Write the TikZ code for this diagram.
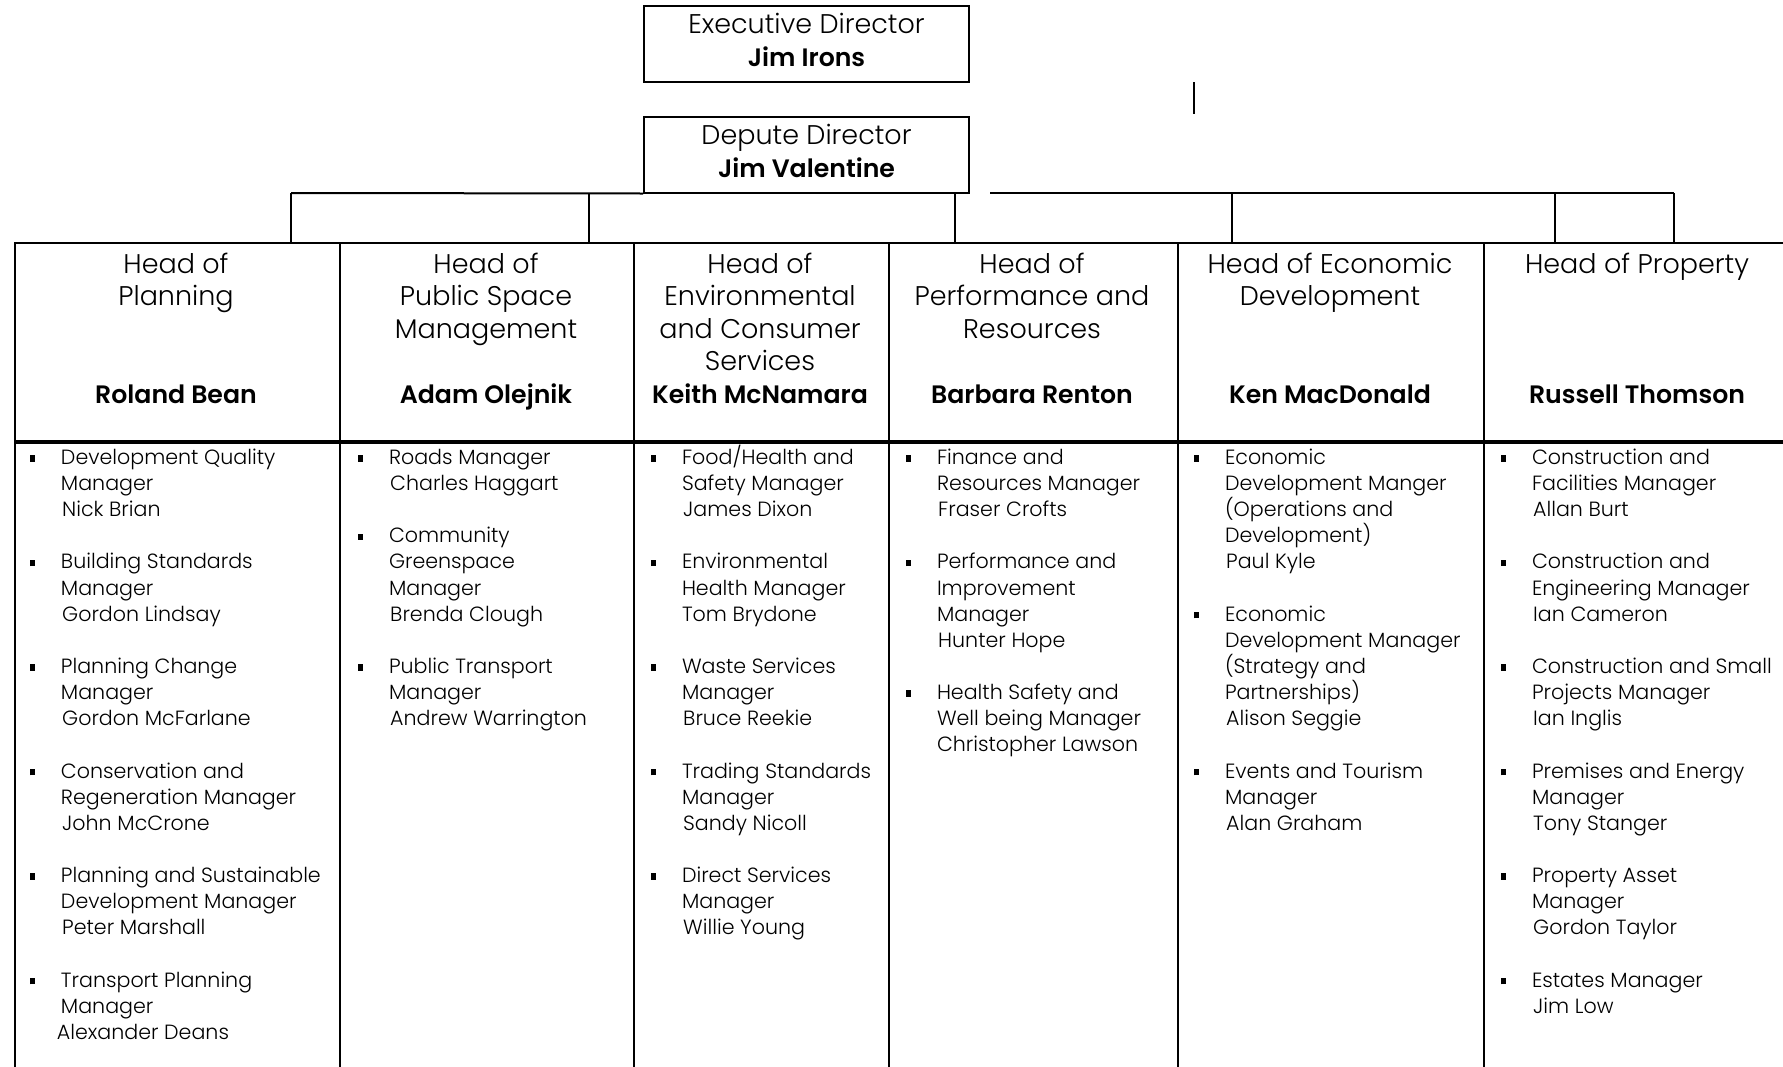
\documentclass[tikz,border=0pt]{standalone}
\usepackage{fontspec}
\setmainfont{Poppins}[UprightFont={* Light},BoldFont={* SemiBold}]
\usepackage{tikz}

\newcommand{\bul}{\llap{\vphantom{/(}\rule[1.4pt]{2.6pt}{3.2pt}\hspace{12.8pt}}}
\newcommand{\who}[1]{\kern0.6pt #1}
\newcommand{\nm}[1]{{\fontsize{12.6}{16.25}\selectfont\bfseries #1}}
\newcommand{\low}{\rule[-4pt]{0pt}{4pt}}

\begin{document}
\begin{tikzpicture}[x=0.5pt,y=-0.5pt,line width=1pt,
    boss/.style={draw,minimum width=162.5pt,minimum height=38pt,align=center,inner sep=0pt,font=\fontsize{13.5}{16.5}\selectfont},
    cell/.style={draw,anchor=north west,inner sep=0pt,minimum height=99pt},
    col/.style={draw,anchor=north west,inner sep=0pt,minimum height=340pt},
    head/.style={anchor=north,align=center,inner sep=0pt,font=\fontsize{13.5}{16.25}\selectfont},
    staff/.style={anchor=north west,align=left,inner sep=0pt,font=\fontsize{10.3}{13.07}\selectfont}]

\useasboundingbox (0,0) rectangle (1783,1066);

% directors
\node[boss] (exec) at (806.5,44) {Executive Director\\\nm{Jim Irons}\low};
\node[boss] (dep) at (806.5,154.5) {Depute Director\\\nm{Jim Valentine}\low};

\coordinate (stubT) at (1194,82);
\coordinate (stubB) at (1194,114);
\draw (stubT) -- (stubB);

% header row
\node[cell,minimum width=162.5pt] (hc1) at (14,242) {};
\node[cell,minimum width=147pt] (hc2) at (339,242) {};
\node[cell,minimum width=127.5pt] (hc3) at (633,242) {};
\node[cell,minimum width=144.5pt] (hc4) at (888,242) {};
\node[cell,minimum width=153pt] (hc5) at (1177,242) {};
\node[cell,minimum width=200pt] (hc6) at (1483,242) {};

% body row
\node[col,minimum width=162.5pt] (bc1) at (hc1.south west) {};
\node[col,minimum width=147pt] (bc2) at (hc2.south west) {};
\node[col,minimum width=127.5pt] (bc3) at (hc3.south west) {};
\node[col,minimum width=144.5pt] (bc4) at (hc4.south west) {};
\node[col,minimum width=153pt] (bc5) at (hc5.south west) {};
\node[col,minimum width=200pt] (bc6) at (hc6.south west) {};

% heads
\node[head] (h1) at (176,252) {Head of\\Planning\\[2\baselineskip]\nm{Roland Bean}};
\node[head] (h2) at (486,252) {Head of\\Public Space\\Management\\[\baselineskip]\nm{Adam Olejnik}};
\node[head] (h3) at (760,252) {Head of\\Environmental\\and Consumer\\Services\\\nm{Keith McNamara}};
\node[head] (h4) at (1032,252) {Head of\\Performance and\\Resources\\[\baselineskip]\nm{Barbara Renton}};
\node[head] (h5) at (1330,252) {Head of Economic\\Development\\[2\baselineskip]\nm{Ken MacDonald}};
\node[head] (h6) at (1637,252) {Head of Property\\[3\baselineskip]\nm{Russell Thomson}};

% links
\coordinate (busL) at (291,193);
\coordinate (d2) at (589,193);
\coordinate (busR) at (990,193);
\coordinate (d4) at (955,193);
\coordinate (d5) at (1232,193);
\coordinate (d6) at (1555,193);
\coordinate (busE) at (1674,193);
\draw (busL) -- (dep.south west);
\draw (busR) -- (busE);
\draw (busL) -- (busL |- hc1.north);
\draw (d2) -- (d2 |- hc2.north);
\draw (d4) -- (d4 |- hc4.north);
\draw (d5) -- (d5 |- hc5.north);
\draw (d6) -- (d6 |- hc6.north);
\draw (busE) -- (busE |- hc6.north);

% managers
\node[staff] (s1) at (60,444) {\bul Development Quality\\Manager\\\who{Nick Brian}\\[\baselineskip]
  \bul Building Standards\\Manager\\\who{Gordon Lindsay}\\[\baselineskip]
  \bul Planning Change\\Manager\\\who{Gordon McFarlane}\\[\baselineskip]
  \bul Conservation and\\Regeneration Manager\\\who{John McCrone}\\[\baselineskip]
  \bul Planning and Sustainable\\Development Manager\\\who{Peter Marshall}\\[\baselineskip]
  \bul Transport Planning\\Manager\\\kern-2pt Alexander Deans};
\node[staff] (s2) at (388,444) {\bul Roads Manager\\\who{Charles Haggart}\\[\baselineskip]
  \bul Community\\Greenspace\\Manager\\\who{Brenda Clough}\\[\baselineskip]
  \bul Public Transport\\Manager\\\who{Andrew Warrington}};
\node[staff] (s3) at (681,444) {\bul Food/Health and\\Safety Manager\\\who{James Dixon}\\[\baselineskip]
  \bul Environmental\\Health Manager\\Tom Brydone\\[\baselineskip]
  \bul Waste Services\\Manager\\\who{Bruce Reekie}\\[\baselineskip]
  \bul Trading Standards\\Manager\\\who{Sandy Nicoll}\\[\baselineskip]
  \bul Direct Services\\Manager\\\who{Willie Young}};
\node[staff] (s4) at (936,444) {\bul Finance and\\Resources Manager\\\who{Fraser Crofts}\\[\baselineskip]
  \bul Performance and\\Improvement\\Manager\\\who{Hunter Hope}\\[\baselineskip]
  \bul Health Safety and\\Well being Manager\\Christopher Lawson};
\node[staff] (s5) at (1224,444) {\bul Economic\\Development Manger\\(Operations and\\Development)\\\who{Paul Kyle}\\[\baselineskip]
  \bul Economic\\Development Manager\\(Strategy and\\Partnerships)\\\who{Alison Seggie}\\[\baselineskip]
  \bul Events and Tourism\\Manager\\\who{Alan Graham}};
\node[staff] (s6) at (1531,444) {\bul Construction and\\Facilities Manager\\\who{Allan Burt}\\[\baselineskip]
  \bul Construction and\\Engineering Manager\\\who{Ian Cameron}\\[\baselineskip]
  \bul Construction and Small\\Projects Manager\\\who{Ian Inglis}\\[\baselineskip]
  \bul Premises and Energy\\Manager\\\who{Tony Stanger}\\[\baselineskip]
  \bul Property Asset\\Manager\\\who{Gordon Taylor}\\[\baselineskip]
  \bul Estates Manager\\\who{Jim Low}};

\end{tikzpicture}
\end{document}
